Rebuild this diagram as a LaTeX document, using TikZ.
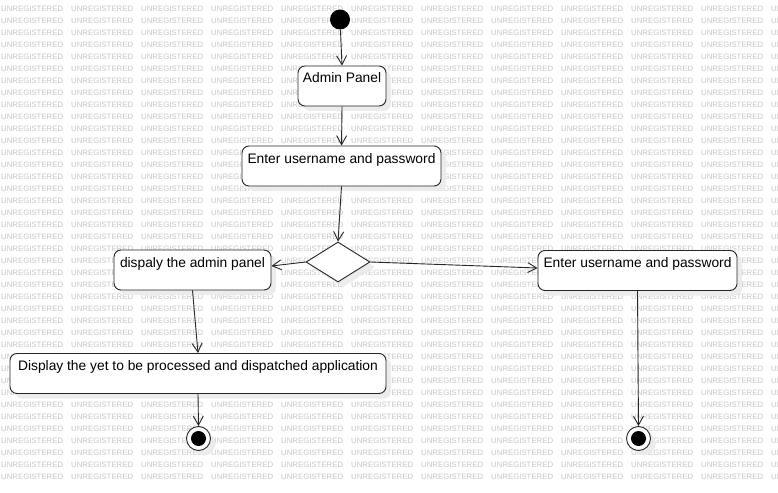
\documentclass[tikz,border=0pt]{standalone}
\usepackage{fontspec}
\setmainfont{Liberation Sans}
\newfontfamily\wmfont{Liberation Sans}
\usetikzlibrary{shapes.geometric,arrows.meta,shadows}
\begin{document}
\begin{tikzpicture}[x=1pt,y=-1pt,
  wm/.style={anchor=west,inner sep=0,text=black!22,font=\wmfont\fontsize{7.8}{8}\selectfont},
  shad/.style={drop shadow={shadow xshift=5pt,shadow yshift=-5pt,fill=black!8,opacity=0.9}},
  actbox/.style={draw=black!85,line width=0.9pt,fill=white,rounded corners=7pt,shad,
    minimum height=40pt,inner xsep=4pt,inner ysep=4pt,text height=13pt,text depth=19pt,
    font=\fontsize{13.8}{15}\selectfont},
  decis/.style={draw=black!85,line width=0.9pt,fill=white,diamond,shad,minimum width=64pt,minimum height=40pt,inner sep=0pt},
  flow/.style={draw=black!85,line width=0.9pt,-{Straight Barb[length=9pt,width=10pt]}},
  startnode/.style={circle,fill=black,minimum size=20pt,inner sep=0pt},
  endouter/.style={circle,draw=black!85,line width=0.9pt,fill=white,minimum size=24pt,inner sep=0pt,shad},
]
\useasboundingbox (0,0) rectangle (778,492);
\fill[white] (0,0) rectangle (778,492);
% watermark
\foreach \r in {0,...,39}{
  \foreach \c in {0,...,11}{
    \node[wm] at (\c*70+1, 8.5+\r*12) {UNREGISTERED};
  }
}
% nodes
\node[startnode] (start) at (340,19.5) {};
\node[actbox,minimum width=88pt] (admin) at (342,86) {Admin Panel};
\node[actbox,minimum width=199pt] (enter1) at (341.5,166) {Enter username and password};
\node[decis] (dec) at (338,262) {};
\node[actbox,minimum width=157pt] (disp) at (192.5,270) {dispaly the admin panel};
\node[actbox,minimum width=199pt] (enter2) at (637.5,270.5) {Enter username and password};
\node[actbox,minimum width=376pt] (show) at (198,373.5) {Display the yet to be processed and dispatched application};
\node[endouter] (end1) at (198.5,438.5) {};
\fill[black] (end1.center) circle (7.5pt);
\node[endouter] (end2) at (638.5,438.5) {};
\fill[black] (end2.center) circle (7.5pt);
% flows
\draw[flow] (start) -- (admin.north);
\draw[flow] (admin.south) -- (enter1.north);
\draw[flow] (enter1.south) -- (dec.north);
\draw[flow] (dec.west) -- ([yshift=4pt]disp.east);
\draw[flow] (dec.east) -- ([yshift=2.5pt]enter2.west);
\draw[flow] (disp.south) -- (show.north);
\draw[flow] (show.south) -- (end1.north);
\draw[flow] (enter2.south) -- (end2.north);
\end{tikzpicture}
\end{document}
